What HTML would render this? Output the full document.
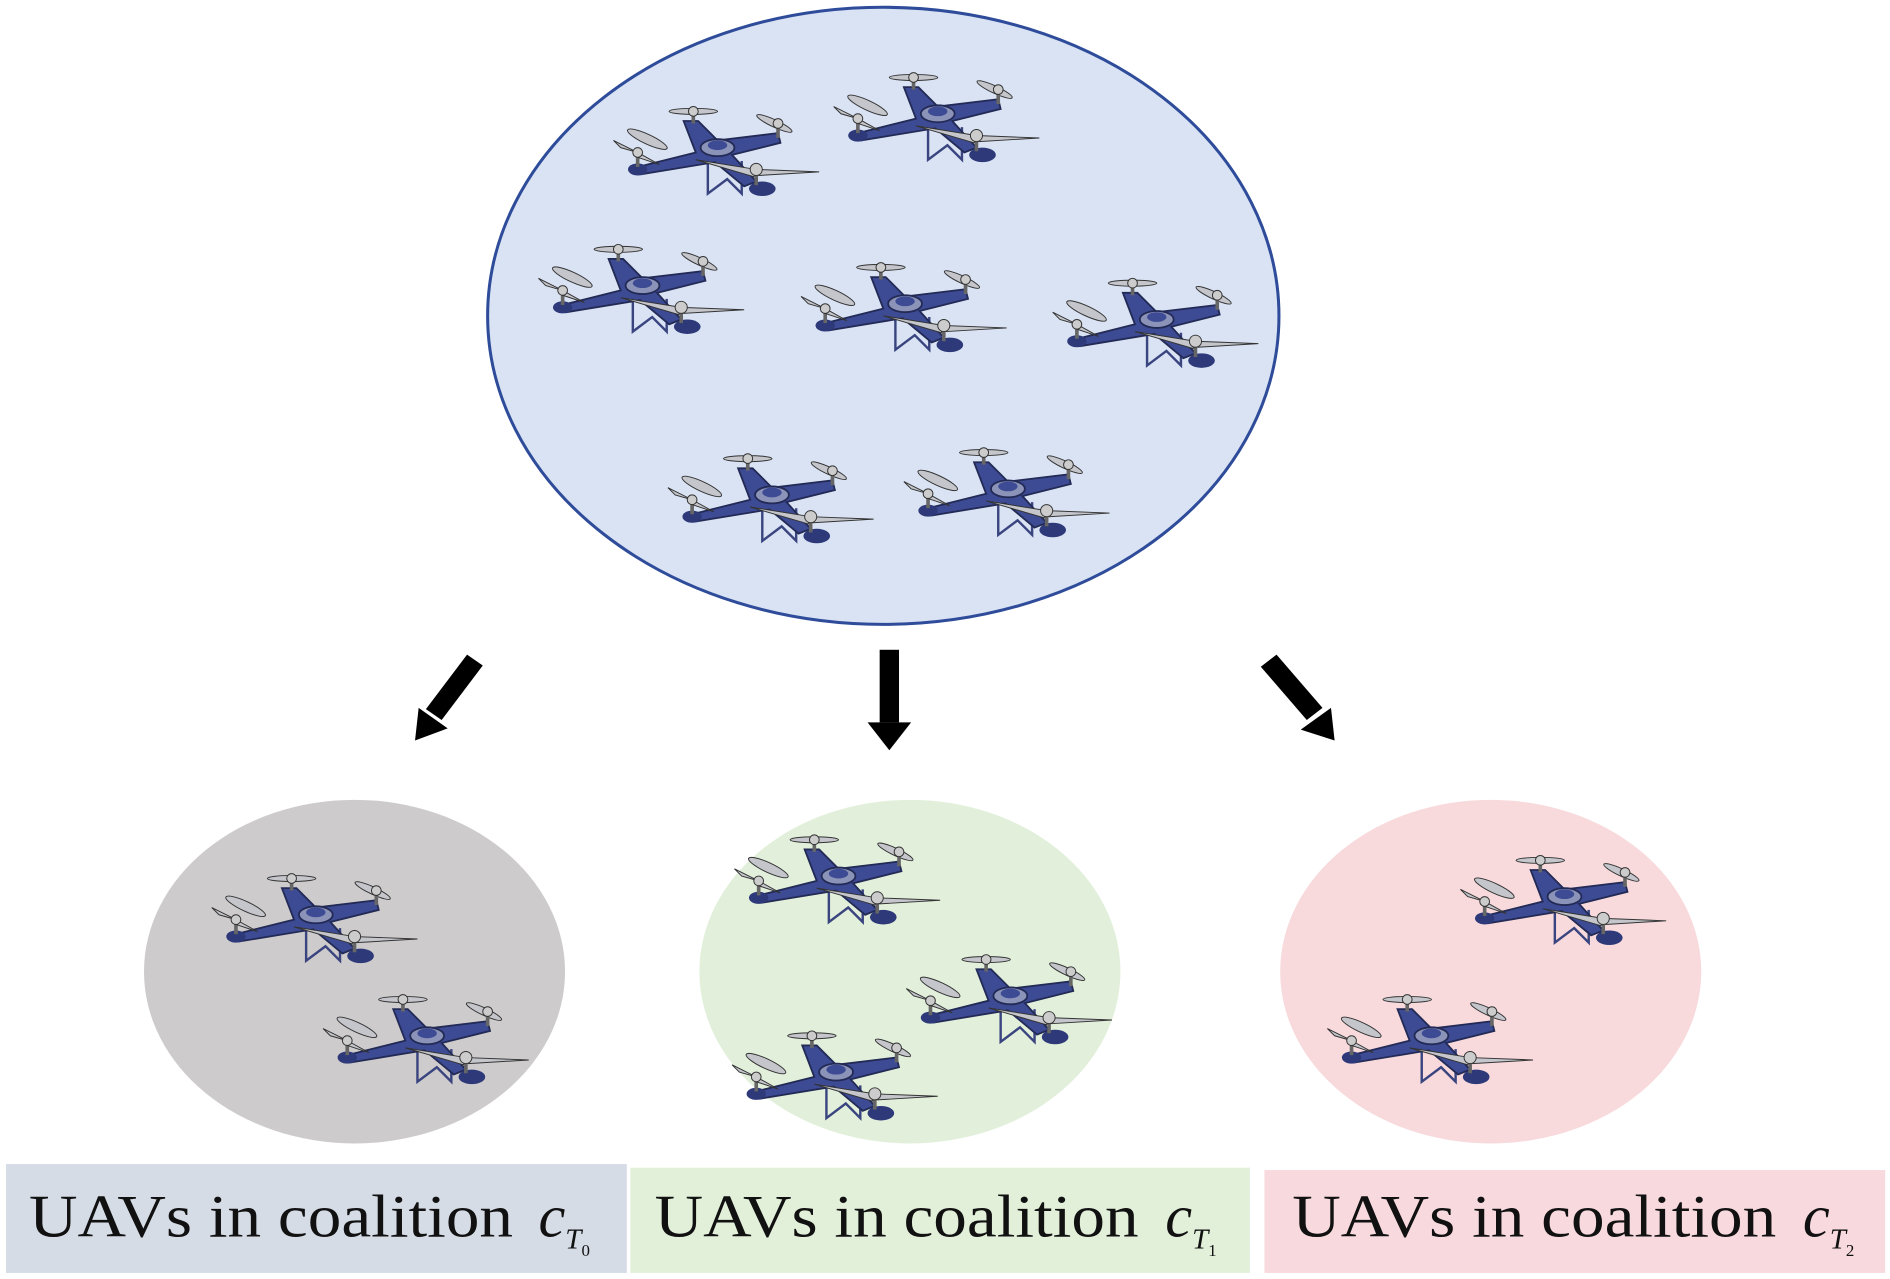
<!DOCTYPE html>
<html><head><style>body{margin:0;background:#fff}svg{display:block}</style></head><body>
<svg width="1890" height="1279" viewBox="0 0 1562 1057" xmlns="http://www.w3.org/2000/svg">
<defs>
<g id="d">
 <ellipse cx="30" cy="27" rx="18" ry="4" fill="#c4c6cc" stroke="#333" stroke-width="0.8" transform="rotate(25 30 27)"/>
 <ellipse cx="68" cy="4" rx="20" ry="2.5" fill="#c4c6cc" stroke="#333" stroke-width="0.8"/>
 <ellipse cx="135" cy="14" rx="16" ry="3" fill="#c4c6cc" stroke="#333" stroke-width="0.8" transform="rotate(25 135 14)"/>
 <polyline points="80,40 80,72 96,60 108,72 108,45" fill="none" stroke="#3a4580" stroke-width="2"/>
 <path d="M22,50 L70,38 L60,12 L72,12 L88,28 L138,22 L140,30 L100,40 L120,62 L110,66 L86,46 L25,56 Z" fill="#3d4b94" stroke="#222a55" stroke-width="1.5"/>
 <ellipse cx="22" cy="52" rx="8" ry="5" fill="#2d3978"/>
 <ellipse cx="125" cy="68" rx="11" ry="6" fill="#2d3978"/>
 <ellipse cx="88" cy="34" rx="14" ry="7" fill="#8b93b8" stroke="#222a55" stroke-width="1.5"/>
 <ellipse cx="88" cy="32" rx="8" ry="4" fill="#3d4b94"/>
 <line x1="22" y1="38" x2="22" y2="50" stroke="#666" stroke-width="3"/>
 <line x1="68" y1="4" x2="68" y2="14" stroke="#666" stroke-width="3"/>
 <line x1="138" y1="14" x2="138" y2="26" stroke="#666" stroke-width="3"/>
 <line x1="120" y1="52" x2="120" y2="65" stroke="#666" stroke-width="3"/>
 <path d="M120,52 L70,44 L118,58 Z" fill="#c4c6cc" stroke="#333" stroke-width="0.8"/>
 <path d="M120,52 L172,54 L122,57 Z" fill="#c4c6cc" stroke="#333" stroke-width="0.8"/>
 <path d="M22,38 L2,28 L8,34 Z M22,38 L40,48 L22,42 Z" fill="#c4c6cc" stroke="#333" stroke-width="0.8"/>
 <circle cx="22" cy="38" r="4" fill="#ccc" stroke="#333" stroke-width="0.8"/>
 <circle cx="68" cy="4" r="4" fill="#ccc" stroke="#333" stroke-width="0.8"/>
 <circle cx="138" cy="14" r="4" fill="#ccc" stroke="#333" stroke-width="0.8"/>
 <circle cx="120" cy="52" r="5" fill="#ccc" stroke="#333" stroke-width="0.8"/>
</g>
</defs>
<ellipse cx="730" cy="261" rx="327" ry="255" fill="#d9e3f4" stroke="#2e4c9a" stroke-width="2.5"/>
<ellipse cx="293" cy="803" rx="174" ry="142" fill="#cecbcc"/>
<ellipse cx="752" cy="803" rx="174" ry="142" fill="#e2f0db"/>
<ellipse cx="1232" cy="803" rx="174" ry="142" fill="#f8dadd"/>
<use href="#d" x="505" y="88"/><use href="#d" x="687" y="60"/>
<use href="#d" x="443" y="202"/><use href="#d" x="660" y="217"/><use href="#d" x="868" y="230"/>
<use href="#d" x="550" y="375"/><use href="#d" x="745" y="370"/>
<use href="#d" x="173" y="722"/><use href="#d" x="265" y="822"/>
<use href="#d" x="605" y="690"/><use href="#d" x="747" y="789"/><use href="#d" x="603" y="852"/>
<use href="#d" x="1205" y="707"/><use href="#d" x="1095" y="822"/>
<g fill="#000">
 <rect x="727" y="537" width="16" height="60"/><polygon points="717,597 753,597 735,620"/>
 <polygon points="386,541 399,550 365,595 352,586"/><polygon points="343,612 346,585 370,602"/>
 <polygon points="1055,541 1042,551 1080,595 1093,585"/><polygon points="1103,612 1100,585 1075,603"/>
</g>
<rect x="5" y="962" width="513" height="90" fill="#d6dce6"/>
<rect x="521" y="965" width="512" height="87" fill="#e2f0da"/>
<rect x="1045" y="967" width="513" height="85" fill="#f8dade"/>
<g font-family="Liberation Serif, serif" font-size="50" fill="#111">
 <text x="24" y="1022" textLength="400" lengthAdjust="spacingAndGlyphs">UAVs in coalition</text>
 <text x="445" y="1022" font-style="italic">c<tspan font-size="24" dy="10">T</tspan><tspan font-style="normal" font-size="14" dy="6">0</tspan></text>
 <text x="541" y="1022" textLength="400" lengthAdjust="spacingAndGlyphs">UAVs in coalition</text>
 <text x="963" y="1022" font-style="italic">c<tspan font-size="24" dy="10">T</tspan><tspan font-style="normal" font-size="14" dy="6">1</tspan></text>
 <text x="1068" y="1022" textLength="400" lengthAdjust="spacingAndGlyphs">UAVs in coalition</text>
 <text x="1490" y="1022" font-style="italic">c<tspan font-size="24" dy="10">T</tspan><tspan font-style="normal" font-size="14" dy="6">2</tspan></text>
</g>
</svg>
</body></html>
